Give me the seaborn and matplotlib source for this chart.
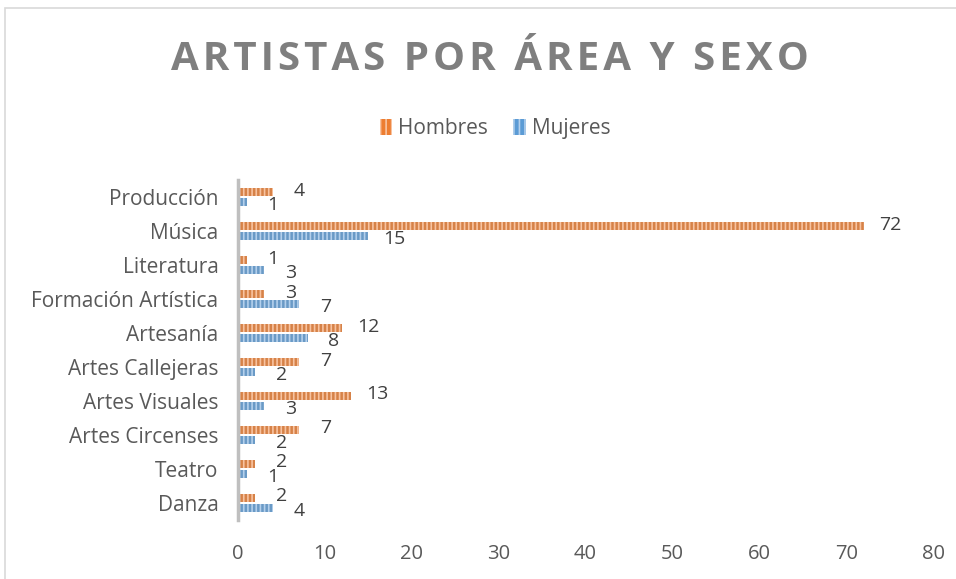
import pandas as pd
import matplotlib
matplotlib.use('Agg')
import matplotlib.pyplot as plt
import seaborn as sns
from matplotlib.patches import Rectangle

areas = ['Producción', 'Música', 'Literatura', 'Formación Artística', 'Artesanía',
         'Artes Callejeras', 'Artes Visuales', 'Artes Circenses', 'Teatro', 'Danza']
hombres = [4, 72, 1, 3, 12, 7, 13, 7, 2, 2]
mujeres = [1, 15, 3, 7, 8, 2, 3, 2, 1, 4]
series = ['Hombres', 'Mujeres']
colores = ['#ED7D31', '#5B9BD5']
rayas = ['#F8C3A0', '#B4D0EC']
titulo = 'ARTISTAS POR ÁREA Y SEXO'

df = pd.DataFrame({'area': areas * 2,
                   'sexo': ['Hombres'] * len(areas) + ['Mujeres'] * len(areas),
                   'n': hombres + mujeres})

sns.set_style('white')
plt.rcParams['font.family'] = ['Open Sans', 'DejaVu Sans']
plt.rcParams['hatch.linewidth'] = 1.2

fig = plt.figure(figsize=(9.56, 5.79), dpi=100)
ax = fig.add_axes([0.249, 0.102, 0.727, 0.587])

sns.barplot(data=df, x='n', y='area', hue='sexo', order=areas, hue_order=series,
            palette=colores, orient='h', width=0.6, gap=0.15, ax=ax, legend=False)

# rayado tipo Excel
for cont, c in zip(ax.containers, rayas):
    for b in cont:
        b.set_hatch('||||')
        b.set_edgecolor(c)
        b.set_linewidth(0)

# etiquetas
for cont, vals, dy in zip(ax.containers, [hombres, mujeres], [1, -2]):
    for b, v in zip(cont, vals):
        ax.annotate(str(v), (b.get_width(), b.get_y() + b.get_height() / 2),
                    xytext=(19, dy), textcoords='offset points',
                    ha='center', va='center', fontsize=14, color='#404040')

ax.set_xlim(0, 80)
ax.set_xticks(range(0, 81, 10))
ax.set_ylim(9.5, -0.5)
ax.set_xlabel('')
ax.set_ylabel('')
for s in ['top', 'right', 'bottom']:
    ax.spines[s].set_visible(False)
ax.spines['left'].set_color('#bfbfbf')
ax.spines['left'].set_linewidth(2.5)
ax.tick_params(axis='both', length=0, labelsize=15, labelcolor='#595959')
ax.tick_params(axis='x', labelsize=14.5, pad=17)
ax.tick_params(axis='y', pad=14)

# leyenda
handles = [Rectangle((0, 0), 1, 1, facecolor=c, edgecolor=r, hatch='|||', linewidth=0)
           for c, r in zip(colores, rayas)]
fig.legend(handles, series, loc='center', bbox_to_anchor=(0.518, 0.778), ncol=2,
           frameon=False, fontsize=15, labelcolor='#595959', handlelength=0.6,
           handleheight=0.8, handletextpad=0.3, columnspacing=1.2)

fig.text(0.512, 0.897, '\u200a'.join(titulo), ha='center', va='center',
         fontsize=29, fontweight='bold', color='#7f7f7f')

fig.patches.append(Rectangle((5 / 956, -0.01), 1, 1 - 8 / 579 + 0.01,
                             transform=fig.transFigure, fill=False,
                             edgecolor='#d9d9d9', linewidth=1.2))

fig.savefig('out.png', dpi=100, facecolor='white')
